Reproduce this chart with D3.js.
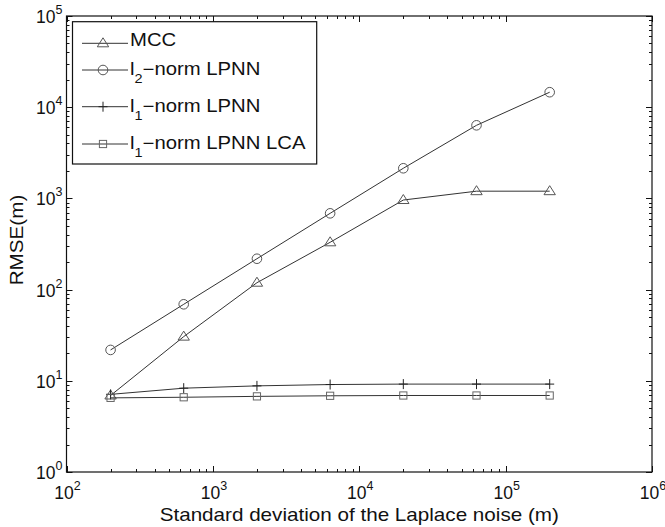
<!DOCTYPE html>
<html>
<head>
<meta charset="utf-8">
<script src="https://cdn.jsdelivr.net/npm/d3@7"></script>
<style>
  body { margin: 0; background: #fff; }
  text { font-family: "Liberation Sans", Arial, sans-serif; fill: #111; }
</style>
</head>
<body>
<span></span>
<script>
// RMSE vs Laplace noise std, log-log

var noiseStd = [200, 632, 2000, 6325, 20000, 63246, 200000];
var mcc      = [6.9, 30.5, 119, 330, 960, 1200, 1200];
var l2Lpnn   = [21.8, 69, 218, 686, 2140, 6330, 14600];
var l1Lpnn   = [7.1, 8.3, 8.8, 9.1, 9.2, 9.2, 9.2];
var l1Lca    = [6.5, 6.6, 6.75, 6.85, 6.9, 6.9, 6.9];

var xTicks = [1e2, 1e3, 1e4, 1e5, 1e6];
var yTicks = [1e0, 1e1, 1e2, 1e3, 1e4, 1e5];

var width = 665, height = 527;
var margin = {top: 16, right: 13, bottom: 55, left: 66.5};

var svg = d3.select("span")
    .append("svg")
    .attr("width", width)
    .attr("height", height);

var xScale = d3.scaleLog()
    .domain([1e2, 1e6])
    .range([margin.left, width - margin.right]);
var yScale = d3.scaleLog()
    .domain([1e0, 1e5])
    .range([height - margin.bottom, margin.top]);

var x0 = margin.left, x1 = width - margin.right;
var y0 = height - margin.bottom, y1 = margin.top;

// minor ticks
var minors = [];
for (var e = 0; e < 5; e++) for (var m = 2; m <= 9; m++) minors.push(m * Math.pow(10, e));

var tickG = svg.append("g").attr("stroke", "#111").attr("stroke-width", 1);
minors.filter(v => v > 1e2 && v < 1e6).forEach(function(v) {
    var x = Math.round(xScale(v)) + 0.5;
    tickG.append("line").attr("x1", x).attr("x2", x).attr("y1", y0).attr("y2", y0 - 3);
    tickG.append("line").attr("x1", x).attr("x2", x).attr("y1", y1).attr("y2", y1 + 3);
});
minors.filter(v => v > 1 && v < 1e5).forEach(function(v) {
    var y = Math.round(yScale(v)) + 0.5;
    tickG.append("line").attr("y1", y).attr("y2", y).attr("x1", x0).attr("x2", x0 + 3);
    tickG.append("line").attr("y1", y).attr("y2", y).attr("x1", x1).attr("x2", x1 - 3);
});
xTicks.forEach(function(v) {
    var x = Math.round(xScale(v)) + 0.5;
    tickG.append("line").attr("x1", x).attr("x2", x).attr("y1", y0).attr("y2", y0 - 6);
    tickG.append("line").attr("x1", x).attr("x2", x).attr("y1", y1).attr("y2", y1 + 6);
});
yTicks.forEach(function(v) {
    var y = Math.round(yScale(v)) + 0.5;
    tickG.append("line").attr("y1", y).attr("y2", y).attr("x1", x0).attr("x2", x0 + 6);
    tickG.append("line").attr("y1", y).attr("y2", y).attr("x1", x1).attr("x2", x1 - 6);
});

// box
svg.append("rect")
    .attr("x", x0).attr("y", y1)
    .attr("width", x1 - x0).attr("height", y0 - y1)
    .attr("fill", "none").attr("stroke", "#111").attr("stroke-width", 1.2);

// tick labels
function powLabel(g, v) {
    var exp = Math.round(Math.log10(v));
    g.append("tspan").text("10");
    g.append("tspan").attr("dy", -9).attr("font-size", 12.5).text(exp);
}
xTicks.forEach(function(v) {
    var t = svg.append("text")
        .attr("x", xScale(v) + 1).attr("y", y0 + 27)
        .attr("text-anchor", "middle")
        .attr("font-size", 17.5);
    powLabel(t, v);
});
yTicks.forEach(function(v) {
    var t = svg.append("text")
        .attr("x", x0 - 4).attr("y", yScale(v) + 7)
        .attr("text-anchor", "end")
        .attr("font-size", 17.5);
    powLabel(t, v);
});

// axis titles (glyphs in the original are a bit wider than Arial)
svg.append("text")
    .attr("transform", `translate(${(x0 + x1) / 2},520.5) scale(1.18,1)`)
    .attr("text-anchor", "middle").attr("font-size", 17.5)
    .text("Standard deviation of the Laplace noise (m)");
svg.append("text")
    .attr("transform", "translate(22.7,240) rotate(-90) scale(1.18,1)")
    .attr("text-anchor", "middle").attr("font-size", 17.5)
    .text("RMSE(m)");

// series
var lineColor = "#333", markColor = "#555";
var series = [
    {name: "MCC", values: mcc, marker: "triangle"},
    {name: "l2", values: l2Lpnn, marker: "circle"},
    {name: "l1", values: l1Lpnn, marker: "plus"},
    {name: "lca", values: l1Lca, marker: "square"}
];

var line = d3.line()
    .x((d, i) => xScale(noiseStd[i]))
    .y(d => yScale(d));

function drawMarker(g, type, x, y) {
    if (type === "circle") {
        g.append("circle").attr("cx", x).attr("cy", y).attr("r", 4.8)
            .attr("fill", "none").attr("stroke", markColor).attr("stroke-width", 1);
    } else if (type === "triangle") {
        g.append("path")
            .attr("d", `M${x},${y - 5.5} L${x + 5.7},${y + 3.5} L${x - 5.7},${y + 3.5} Z`)
            .attr("fill", "none").attr("stroke", markColor).attr("stroke-width", 1);
    } else if (type === "square") {
        g.append("rect").attr("x", x - 3.6).attr("y", y - 3.6).attr("width", 7.2).attr("height", 7.2)
            .attr("fill", "none").attr("stroke", "#666").attr("stroke-width", 1);
    } else {
        g.append("path")
            .attr("d", `M${x - 4.5},${y} L${x + 4.5},${y} M${x},${y - 5} L${x},${y + 5}`)
            .attr("fill", "none").attr("stroke", "#222").attr("stroke-width", 1);
    }
}

series.forEach(function(s) {
    var g = svg.append("g");
    g.append("path")
        .datum(s.values)
        .attr("d", line)
        .attr("fill", "none")
        .attr("stroke", lineColor)
        .attr("stroke-width", 1);
    s.values.forEach(function(v, i) {
        drawMarker(g, s.marker, xScale(noiseStd[i]), yScale(v));
    });
});

// legend
var lg = svg.append("g");
lg.append("rect")
    .attr("x", 72.5).attr("y", 21.7).attr("width", 244.2).attr("height", 142.3)
    .attr("fill", "#fff").attr("stroke", "#111").attr("stroke-width", 1.2);
var legendLineY = [43.3, 70, 106.7, 144];
var legendTextY = [45.5, 75, 111.5, 149];
var legendItems = [
    {marker: "triangle", base: "MCC", sub: null, rest: ""},
    {marker: "circle", base: "l", sub: "2", rest: "\u2212norm LPNN"},
    {marker: "plus", base: "l", sub: "1", rest: "\u2212norm LPNN"},
    {marker: "square", base: "l", sub: "1", rest: "\u2212norm LPNN LCA"}
];
legendItems.forEach(function(it, i) {
    var y = legendLineY[i];
    lg.append("line").attr("x1", 82).attr("x2", 128).attr("y1", y).attr("y2", y)
        .attr("stroke", lineColor).attr("stroke-width", 1);
    drawMarker(lg, it.marker, 103, y);
    var t = lg.append("text")
        .attr("transform", `translate(130,${legendTextY[i]}) scale(1.16,1)`)
        .attr("font-size", 17.5);
    t.append("tspan").text(it.base);
    if (it.sub) {
        t.append("tspan").attr("dy", 8).attr("font-size", 12.5).text(it.sub);
        t.append("tspan").attr("dy", -8).text(it.rest);
    }
});
</script>
</body>
</html>
